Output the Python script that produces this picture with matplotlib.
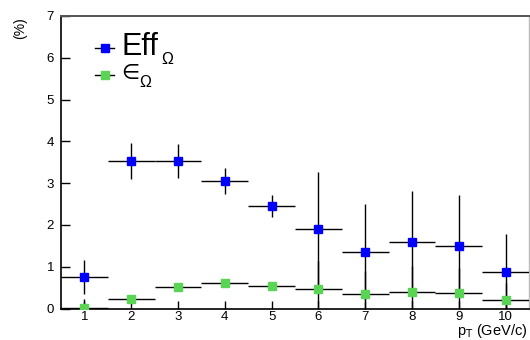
import matplotlib
matplotlib.use("Agg")
import matplotlib.pyplot as plt
from matplotlib.lines import Line2D

plt.rcParams["font.family"] = ["Liberation Sans", "DejaVu Sans"]

# ------------------------------------------------------------------
# Data
# ------------------------------------------------------------------
pt_bins = [1, 2, 3, 4, 5, 6, 7, 8, 9, 10]
bin_half_width = [0.5] * 10

eff_vals = [0.75, 3.53, 3.53, 3.05, 2.45, 1.91, 1.35, 1.58, 1.50, 0.87]
eff_errs = [0.41, 0.43, 0.40, 0.31, 0.27, 1.36, 1.14, 1.24, 1.21, 0.92]

eps_vals = [0.02, 0.23, 0.52, 0.60, 0.55, 0.47, 0.34, 0.39, 0.37, 0.21]
eps_errs = [0.20, 0.05, 0.05, 0.05, 0.05, 0.66, 0.56, 0.63, 0.61, 0.40]

x_ticks = [1, 2, 3, 4, 5, 6, 7, 8, 9, 10]
y_ticks = [0, 1, 2, 3, 4, 5, 6, 7]

BLUE = "#0000ff"
GREEN = "#59d454"

W, H = 530, 340
fig = plt.figure(figsize=(W / 100, H / 100), dpi=100)
ax = fig.add_axes([61 / W, 1 - 308.5 / H, (529 - 61) / W, (308.5 - 16) / H])

for vals, errs, col in [(eff_vals, eff_errs, BLUE), (eps_vals, eps_errs, GREEN)]:
    ax.errorbar(pt_bins, vals, xerr=bin_half_width, yerr=errs, fmt="s",
                color=col, mec=col, ms=6, ecolor="black", elinewidth=1.0,
                capsize=0, zorder=3)

ax.set_xlim(0.5, 10.5)
ax.set_ylim(0, 7)
ax.set_xticks(x_ticks)
ax.set_yticks(y_ticks)
ax.tick_params(axis="both", direction="in", labelsize=9.5, width=1.0,
               colors="black")
ax.tick_params(axis="x", length=6, pad=2)
ax.tick_params(axis="y", length=6.5, pad=5)

ax.spines["left"].set_linewidth(1.2)
ax.spines["bottom"].set_linewidth(1.2)
ax.spines["top"].set_color("#555555")
ax.spines["top"].set_linewidth(1.4)
ax.spines["right"].set_color("#bbbbbb")
ax.spines["right"].set_linewidth(1.0)

# axis titles
fig.text(20 / W, 1 - 17 / H, "(%)", rotation=90, ha="center", va="top",
         fontsize=10)
fig.text(528 / W, 1 - 335 / H, r"p$_{\mathrm{T}}$ (GeV/c)", ha="right",
         va="baseline", fontsize=10.5)

# legend drawn by hand (ROOT-style)
for py, col in [(48, BLUE), (75, GREEN)]:
    fig.add_artist(Line2D([95 / W, 114 / W], [1 - py / H, 1 - py / H],
                          color="black", lw=1.0, transform=fig.transFigure))
    fig.add_artist(Line2D([104.5 / W], [1 - py / H], color=col, marker="s",
                          ms=5.5, mec=col, lw=0, transform=fig.transFigure))

fig.text(121 / W, 1 - 55 / H, "Eff", fontsize=22, va="baseline")
fig.text(161 / W, 1 - 64 / H, "Ω", fontsize=11.5, va="baseline")
fig.text(121 / W, 1 - 79 / H, "∈", fontsize=15, va="baseline",
         family=["DejaVu Sans"])
fig.text(139 / W, 1 - 87 / H, "Ω", fontsize=11.5, va="baseline")

fig.savefig("out.png", dpi=100)
